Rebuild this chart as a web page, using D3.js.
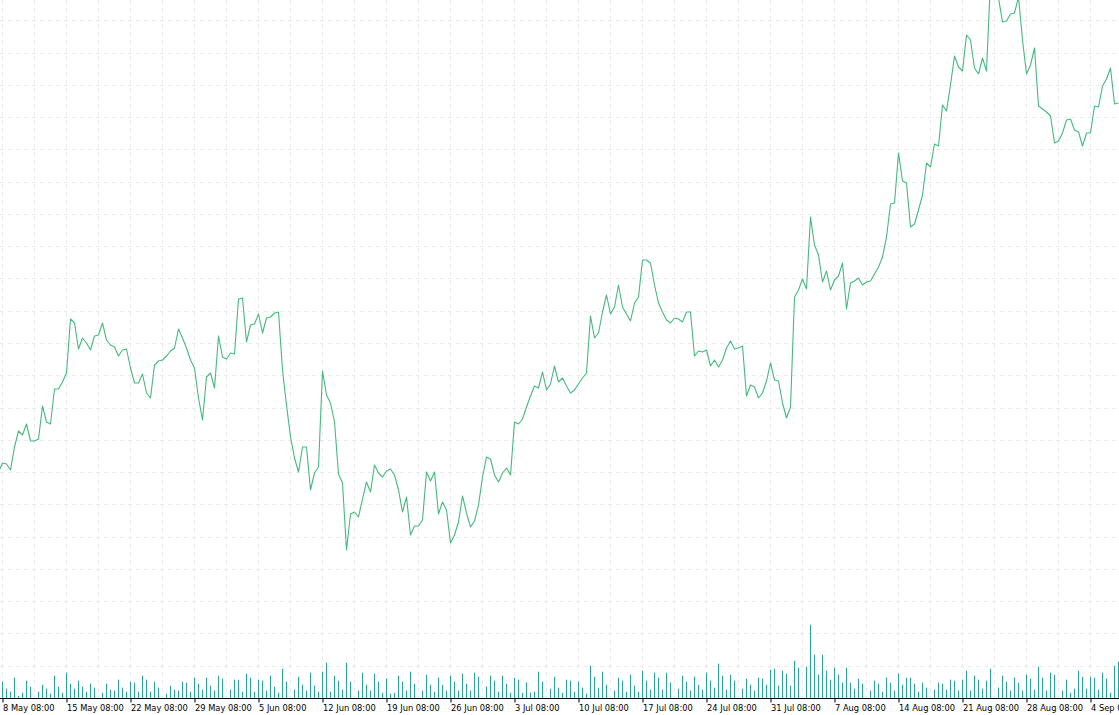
<!DOCTYPE html>
<html>
<head>
<meta charset="utf-8">
<script src="https://cdn.jsdelivr.net/npm/d3@7"></script>
<style>
  html, body { margin: 0; padding: 0; background: #ffffff; overflow: hidden; }
  svg { display: block; }
  .tick text { font-family: "DejaVu Sans", sans-serif; font-size: 8.3px; fill: #000; }
</style>
</head>
<body>
<svg id="chart" width="1119" height="715"></svg>
<script>
// ---------------- DATA ----------------
// Bars every 10.5 hours, first bar 7 May 2023 21:30 UTC (just left of the view)
const firstBarTime = "2023-05-07T21:30:00Z";
const barStepHours = 10.5;

const closePrices = [
  228, 237, 236, 230, 253, 269, 265, 276, 259, 259, 261, 294, 278, 276, 311, 311,
  318, 327, 381, 377, 351, 362, 357, 350, 364, 365, 377, 360, 355, 353, 344, 350,
  351, 332, 317, 317, 326, 307, 302, 335, 339, 340, 344, 349, 352, 371, 362, 352,
  340, 332, 302, 280, 323, 327, 312, 364, 343, 341, 347, 346, 401, 402, 358, 375,
  376, 386, 367, 382, 383, 387, 388, 330, 295, 263, 242, 228, 253, 253, 210, 227,
  233, 329, 305, 297, 278, 226, 217, 150, 186, 188, 183, 201, 218, 208, 235, 227,
  223, 229, 231, 225, 210, 188, 203, 165, 174, 174, 180, 228, 219, 228, 186, 198,
  190, 157, 165, 178, 204, 187, 173, 179, 195, 223, 243, 241, 225, 218, 227, 232,
  225, 278, 276, 281, 293, 304, 314, 312, 328, 310, 316, 334, 318, 322, 314, 307,
  310, 316, 322, 327, 384, 362, 367, 388, 405, 386, 393, 415, 393, 386, 379, 397,
  403, 440, 440, 437, 415, 397, 388, 380, 377, 382, 381, 378, 388, 388, 344, 349,
  348, 350, 334, 340, 333, 340, 352, 359, 351, 352, 354, 304, 315, 313, 302, 307,
  319, 337, 320, 319, 297, 282, 293, 403, 410, 421, 411, 483, 455, 445, 418, 429,
  410, 420, 424, 437, 391, 417, 419, 422, 415, 418, 419, 426, 433, 443, 463, 496,
  497, 547, 519, 517, 473, 476, 490, 505, 537, 533, 556, 554, 595, 589, 615, 644,
  633, 629, 665, 660, 632, 626, 642, 629, 720, 735, 702, 678, 679, 686, 687, 703,
  660, 626, 635, 652, 594, 591, 588, 584, 557, 559, 567, 580, 581, 570, 568, 554,
  567, 567, 594, 593, 614, 621, 632, 596, 597
];

const volumes = [
   40,  49,  28,  19,  61,   6,  16,  52,  34,   0,  19,  40,  28,  13,  67,  34,
   16,  76,  43,  28,  52,  34,  19,  43,  31,   0,  16,  43,  25,  22,  55,  31,
   19,  49,  46,  19,  67,  55,  19,  49,  31,   0,  13,  37,  25,  22,  49,  46,
   19,  61,  43,  25,  61,  37,  22,  67,  58,   0,  25,  55,  55,  19,  73,  61,
   19,  55,  52,  22,  67,  34,  16,  88,  49,   0,  25,  64,  40,  22,  76,  37,
   19,  79, 106,  19,  67,  52,  25, 106,  49,   0,  22,  76,  40,  22,  73,  49,
   16,  58,  13,  16,  67,  49,  22,  79,  43,   0,  22,  70,  40,  19,  61,  40,
   22,  67,  49,  22,  73,  43,  22,  76,  64,   0,  34,  67,  52,  19,  67,  43,
   16,  61,  55,  16,  47,  16,  19,  79,  49,   0,  28,  64,  31,  16,  55,  52,
   19,  49,  31,  13,  97,  64,  31,  79,  40,   0,  22,  61,  52,  19,  70,  37,
   19,  82,  52,  25,  76,  61,  25,  76,  46,   0,  28,  67,  49,  22,  64,  40,
   25,  76,  52,  31, 103,  67,  25,  70,  52,   0,  28,  58,  40,  22,  61,  58,
   40,  85,  88,  37,  82,  73,  37, 112,  91,   0,  94, 220, 130,  70, 130,  82,
   55,  91,  70,  46,  91,  46,  28,  58,  43,   0,  22,  52,  43,  19,  61,  46,
   22,  73,  40,  61,  61,  43,  19,  46,  31,   0,  25,  46,  43,  25,  55,  52,
   22,  55,  82,  22,  67,  55,  28,  52,  88,   0,  31,  67,  49,  22,  61,  46,
   22,  70,  58,  25,  94,  61,  22,  76,  70,   0,  22,  55,  16,  28,  82,  64,
   28,  64,  61,  25,  76,  58,  16,  97, 109
];

const tickDates = [
  "2023-05-08T08:00:00Z", "2023-05-15T08:00:00Z", "2023-05-22T08:00:00Z",
  "2023-05-29T08:00:00Z", "2023-06-05T08:00:00Z", "2023-06-12T08:00:00Z",
  "2023-06-19T08:00:00Z", "2023-06-26T08:00:00Z", "2023-07-03T08:00:00Z",
  "2023-07-10T08:00:00Z", "2023-07-17T08:00:00Z", "2023-07-24T08:00:00Z",
  "2023-07-31T08:00:00Z", "2023-08-07T08:00:00Z", "2023-08-14T08:00:00Z",
  "2023-08-21T08:00:00Z", "2023-08-28T08:00:00Z", "2023-09-04T08:00:00Z"
];

// ---------------- CHART ----------------
const W = 1119, H = 715;
const axisY = 698.5;
const svg = d3.select("#chart");

const t0 = new Date(firstBarTime).getTime();
const data = closePrices.map((p, i) => ({
  date: new Date(t0 + i * barStepHours * 3600e3),
  price: p,
  volume: volumes[i]
}));

const firstTick = new Date(tickDates[0]);
const x = d3.scaleUtc()
  .domain([firstTick, d3.utcDay.offset(firstTick, 7)])
  .range([2.5, 66.5]);

const y = d3.scaleLinear().domain([0, 700]).range([700, 0]);
const yVol = d3.scaleLinear().domain([0, 240]).range([698, 618]);

const gridColor = "#ebeaef";

// horizontal grid (hidden price axis ticks)
const gridPrices = d3.range(21).map(k => 679.7 - 32.27 * k);
svg.append("g").selectAll("line").data(gridPrices).join("line")
  .attr("x1", 0).attr("x2", W)
  .attr("y1", d => Math.round(y(d)) + 0.5)
  .attr("y2", d => Math.round(y(d)) + 0.5)
  .attr("stroke", gridColor).attr("stroke-width", 1)
  .attr("stroke-dasharray", "4,4");

// vertical grid every 3.5 days
const gridTimes = d3.range(0, 36).map(k => d3.utcHour.offset(firstTick, k * 84));
svg.append("g").selectAll("line").data(gridTimes).join("line")
  .attr("x1", d => x(d)).attr("x2", d => x(d))
  .attr("y1", 0).attr("y2", 698)
  .attr("stroke", gridColor).attr("stroke-width", 1)
  .attr("stroke-dasharray", "4,4");

// volume bars
svg.append("g").selectAll("rect").data(data.filter(d => d.volume > 0)).join("rect")
  .attr("x", d => x(d.date) - 0.5)
  .attr("width", 1)
  .attr("y", d => yVol(d.volume))
  .attr("height", d => 698 - yVol(d.volume))
  .attr("fill", "#26a69a");

// price line
const line = d3.line().x(d => x(d.date)).y(d => y(d.price));
svg.append("path").datum(data)
  .attr("d", line)
  .attr("fill", "none")
  .attr("stroke", "#46b97c")
  .attr("stroke-width", 1.1)
  .attr("stroke-linejoin", "round");

// time axis
const axis = d3.axisBottom(x)
  .tickValues(tickDates.map(s => new Date(s)))
  .tickFormat(d3.utcFormat("%-d %b %H:%M"))
  .tickSize(4)
  .tickSizeOuter(0);

const gAxis = svg.append("g").attr("transform", `translate(0,${axisY})`).call(axis);
gAxis.select(".domain").remove();
gAxis.selectAll(".tick line").attr("stroke", "#000");
gAxis.selectAll(".tick text")
  .attr("text-anchor", "start")
  .attr("x", 0)
  .attr("dy", null)
  .attr("y", 12.5);
gAxis.append("line")
  .attr("x1", 0).attr("x2", W).attr("y1", 0).attr("y2", 0)
  .attr("stroke", "#000").attr("stroke-width", 1);
</script>
</body>
</html>
